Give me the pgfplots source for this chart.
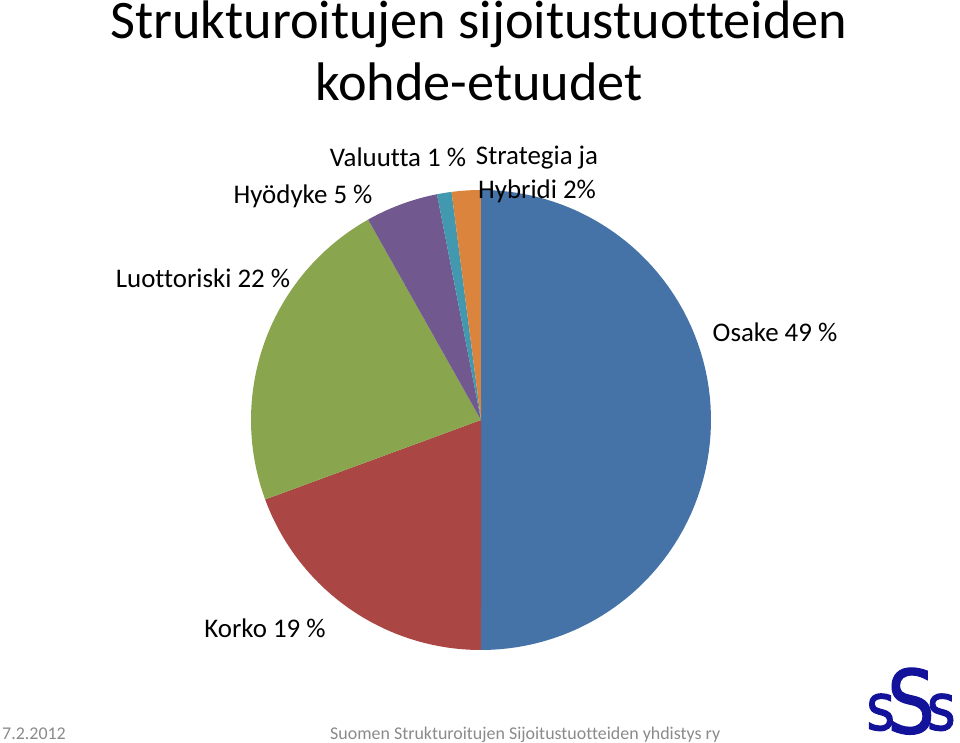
\documentclass[border=0pt]{standalone}
\usepackage{pgfplots}
\pgfplotsset{compat=1.18}
\usepackage{fontspec}
\setmainfont{Carlito}[Ligatures=NoCommon]
\newfontfamily\logofont{DejaVu Sans}[FakeBold=1.5]
\definecolor{cOsake}{HTML}{4572A7}
\definecolor{cKorko}{HTML}{AA4643}
\definecolor{cLuotto}{HTML}{89A54E}
\definecolor{cHyod}{HTML}{71588F}
\definecolor{cValuutta}{HTML}{4198AF}
\definecolor{cStrat}{HTML}{DB843D}
\definecolor{footgray}{HTML}{8A8A8A}
\definecolor{logoblue}{HTML}{12129A}
% data (percent)
\def\vOsake{49}
\def\vKorko{19}
\def\vLuotto{22}
\def\vHyod{5}
\def\vValuutta{1}
\def\vStrat{2}
\pgfmathsetmacro\tot{\vOsake+\vKorko+\vLuotto+\vHyod+\vValuutta+\vStrat}
\pgfmathsetmacro\aA{90}
\pgfmathsetmacro\aB{\aA-360*(\vOsake/\tot)}
\pgfmathsetmacro\aC{\aB-360*(\vKorko/\tot)}
\pgfmathsetmacro\aD{\aC-360*(\vLuotto/\tot)}
\pgfmathsetmacro\aE{\aD-360*(\vHyod/\tot)}
\pgfmathsetmacro\aF{\aE-360*(\vValuutta/\tot)}
\pgfmathsetmacro\aG{\aF-360*(\vStrat/\tot)}
\def\cx{481}
\def\cy{322}
\def\R{230}
\begin{document}
\begin{tikzpicture}
\begin{axis}[
  width=960bp, height=742bp, scale only axis,
  xmin=0, xmax=960, ymin=0, ymax=742,
  hide axis, clip=false,
  samples=80, variable=\t,
]
\addplot[fill=cOsake, draw=none, domain=\aB:\aA] ({\cx+\R*cos(\t)},{\cy+\R*sin(\t)}) -- (axis cs:\cx,\cy) -- cycle;
\addplot[fill=cKorko, draw=none, domain=\aC:\aB] ({\cx+\R*cos(\t)},{\cy+\R*sin(\t)}) -- (axis cs:\cx,\cy) -- cycle;
\addplot[fill=cLuotto, draw=none, domain=\aD:\aC] ({\cx+\R*cos(\t)},{\cy+\R*sin(\t)}) -- (axis cs:\cx,\cy) -- cycle;
\addplot[fill=cHyod, draw=none, domain=\aE:\aD, samples=30] ({\cx+\R*cos(\t)},{\cy+\R*sin(\t)}) -- (axis cs:\cx,\cy) -- cycle;
\addplot[fill=cValuutta, draw=none, domain=\aF:\aE, samples=10] ({\cx+\R*cos(\t)},{\cy+\R*sin(\t)}) -- (axis cs:\cx,\cy) -- cycle;
\addplot[fill=cStrat, draw=none, domain=\aG:\aF, samples=10] ({\cx+\R*cos(\t)},{\cy+\R*sin(\t)}) -- (axis cs:\cx,\cy) -- cycle;
% title
\node[font=\fontsize{54.5}{63}\selectfont, align=center, anchor=base] at (axis cs:479,641) {Strukturoitujen sijoitustuotteiden\\kohde-etuudet};
% labels
\node[font=\fontsize{27}{32}\selectfont] at (axis cs:775,410) {Osake 49 \%};
\node[font=\fontsize{27}{32}\selectfont] at (axis cs:265,114) {Korko 19 \%};
\node[font=\fontsize{27}{32}\selectfont] at (axis cs:203,464) {Luottoriski 22 \%};
\node[font=\fontsize{27}{32}\selectfont] at (axis cs:303,546) {Hyödyke 5 \%};
\node[font=\fontsize{27}{32}\selectfont] at (axis cs:398,585) {Valuutta 1 \%};
\node[font=\fontsize{27}{34}\selectfont, align=center] at (axis cs:537,568) {Strategia ja\\Hybridi 2\%};
% footer
\node[font=\fontsize{18}{22}\selectfont, text=footgray, anchor=base west, inner sep=0pt] at (axis cs:2,3) {7.2.2012};
\node[font=\fontsize{18}{22}\selectfont, text=footgray, anchor=base west, inner sep=0pt] at (axis cs:330,3) {Suomen Strukturoitujen Sijoitustuotteiden yhdistys ry};
\node[text=logoblue, inner sep=0pt, anchor=base] at (axis cs:911,12) {\scalebox{0.9}[1.05]{\logofont\fontsize{62}{62}\selectfont s\kern-9pt\raisebox{-3pt}{\fontsize{84}{84}\selectfont S}\kern-9pt s}};
\end{axis}
\pgfresetboundingbox
\path (current axis.south west) rectangle (current axis.north east);
\end{tikzpicture}
\end{document}
